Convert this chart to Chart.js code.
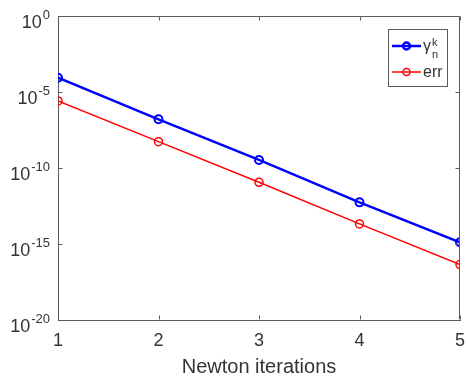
<!DOCTYPE html>
<html>
<head>
<meta charset="utf-8">
<script src="https://cdn.jsdelivr.net/npm/chart.js@4.4.0/dist/chart.umd.min.js"></script>
<style>
  html, body { margin: 0; padding: 0; background: #fff; }
  #wrap { width: 466px; height: 381px; position: relative; }
</style>
</head>
<body>
<div id="wrap"><canvas id="grafico"></canvas></div>
<script>
// dados
const iteracoes = [1, 2, 3, 4, 5];
const gammaValores = [8.7e-5, 1.6e-7, 3.4e-10, 5.5e-13, 1.3e-15];
const errValores = [2.6e-6, 5.4e-9, 1.15e-11, 2.1e-14, 4.4e-17];
const yTicks = [1e-20, 1e-15, 1e-10, 1e-5, 1];
const xTicks = [1, 2, 3, 4, 5];
const nomesSeries = ['γ', 'err'];
const tituloX = 'Newton iterations';

const fonte = "'Liberation Sans', Arial, Helvetica, sans-serif";
const corTexto = '#333333';
const corEixo = '#5a5a5a';
const azul = '#0000ff';
const vermelho = '#ff0000';

function pontos(valores) {
  return iteracoes.map((x, i) => ({ x: x, y: valores[i] }));
}

// moldura, ticks internos, rótulos 10^n e legenda no estilo MATLAB
const estiloMatlab = {
  id: 'estiloMatlab',
  afterDraw(chart) {
    const { ctx, chartArea: a, scales: { x, y } } = chart;
    ctx.save();
    ctx.strokeStyle = corEixo;
    ctx.lineWidth = 1;
    const L = Math.round(a.left) + 0.5, R = Math.round(a.right) - 0.5;
    const T = Math.round(a.top) + 0.5, B = Math.round(a.bottom) - 0.5;
    ctx.beginPath();
    ctx.moveTo(L, T); ctx.lineTo(R, T); ctx.lineTo(R, B);
    xTicks.forEach(v => {
      const px = Math.round(x.getPixelForValue(v)) + 0.5;
      ctx.moveTo(px, B); ctx.lineTo(px, B - 4);
      ctx.moveTo(px, T); ctx.lineTo(px, T + 4);
    });
    yTicks.forEach(v => {
      const py = Math.round(y.getPixelForValue(v)) + 0.5;
      ctx.moveTo(L, py); ctx.lineTo(L + 4, py);
      ctx.moveTo(R, py); ctx.lineTo(R - 4, py);
    });
    ctx.stroke();

    // rótulos do eixo y com expoente
    ctx.fillStyle = corTexto;
    ctx.textBaseline = 'alphabetic';
    ctx.textAlign = 'left';
    yTicks.forEach(v => {
      const py = y.getPixelForValue(v);
      const expo = String(Math.round(Math.log10(v)));
      ctx.font = '13px ' + fonte;
      const wExp = ctx.measureText(expo).width;
      const xExp = a.left - 8 - wExp;
      ctx.fillText(expo, xExp, py + 2.5);
      ctx.font = '18px ' + fonte;
      const wBase = ctx.measureText('10').width;
      ctx.fillText('10', xExp - 1 - wBase, py + 11.5);
    });

    // legenda
    const bx = a.right - 72, by = a.top + 13, bw = 59, bh = 57;
    ctx.fillStyle = '#fff';
    ctx.fillRect(bx, by, bw, bh);
    ctx.strokeStyle = corEixo;
    ctx.strokeRect(bx + 0.5, by + 0.5, bw, bh);
    const itens = [
      { cor: azul, largura: 2.5, yy: by + 17 },
      { cor: vermelho, largura: 1.5, yy: by + 43 }
    ];
    itens.forEach((it, i) => {
      ctx.strokeStyle = it.cor;
      ctx.lineWidth = it.largura;
      ctx.beginPath();
      ctx.moveTo(bx + 4, it.yy); ctx.lineTo(bx + 33, it.yy);
      ctx.stroke();
      ctx.beginPath();
      ctx.arc(bx + 18.5, it.yy, 3.5, 0, Math.PI * 2);
      ctx.stroke();
      ctx.fillStyle = corTexto;
      ctx.font = '16px ' + fonte;
      const tx = bx + 35;
      ctx.fillText(nomesSeries[i], tx, it.yy + 5);
      if (i === 0) {
        const wg = ctx.measureText(nomesSeries[i]).width;
        ctx.font = '11px ' + fonte;
        ctx.fillText('k', tx + wg + 1, it.yy);
        ctx.fillText('n', tx + wg + 1, it.yy + 12);
      }
    });
    ctx.restore();
  }
};

const ctx = document.getElementById('grafico').getContext('2d');
new Chart(ctx, {
  type: 'line',
  data: {
    datasets: [
      {
        label: nomesSeries[0],
        data: pontos(gammaValores),
        borderColor: azul,
        borderWidth: 2.5,
        pointStyle: 'circle',
        pointRadius: 4,
        pointBorderWidth: 2,
        pointBackgroundColor: 'transparent',
        pointBorderColor: azul,
        tension: 0
      },
      {
        label: nomesSeries[1],
        data: pontos(errValores),
        borderColor: vermelho,
        borderWidth: 1.5,
        pointStyle: 'circle',
        pointRadius: 4,
        pointBorderWidth: 1.5,
        pointBackgroundColor: 'transparent',
        pointBorderColor: vermelho,
        tension: 0
      }
    ]
  },
  options: {
    responsive: true,
    maintainAspectRatio: false,
    animation: false,
    layout: { padding: { top: 16, right: 5, left: 0, bottom: 0 } },
    plugins: {
      legend: { display: false },
      tooltip: { enabled: false }
    },
    scales: {
      x: {
        type: 'linear',
        min: 1,
        max: 5,
        afterBuildTicks: s => { s.ticks = xTicks.map(v => ({ value: v })); },
        afterFit: s => {
          s.height = 61;
          s.paddingLeft = 0;
          s.paddingRight = 0;
        },
        grid: { display: true, drawOnChartArea: false, drawTicks: false },
        border: { display: true, color: corEixo, width: 1 },
        ticks: {
          padding: 10,
          color: corTexto,
          font: { family: fonte, size: 18 },
          maxRotation: 0
        },
        title: {
          display: true,
          text: tituloX,
          color: corTexto,
          font: { family: fonte, size: 20 },
          padding: { top: 0, bottom: 2 }
        }
      },
      y: {
        type: 'logarithmic',
        min: 1e-20,
        max: 1,
        afterBuildTicks: s => { s.ticks = yTicks.map(v => ({ value: v })); },
        afterFit: s => {
          s.width = 58;
          s.paddingTop = 0;
          s.paddingBottom = 0;
        },
        grid: { display: true, drawOnChartArea: false, drawTicks: false },
        border: { display: true, color: corEixo, width: 1 },
        ticks: { display: false }
      }
    }
  },
  plugins: [estiloMatlab]
});
</script>
</body>
</html>
